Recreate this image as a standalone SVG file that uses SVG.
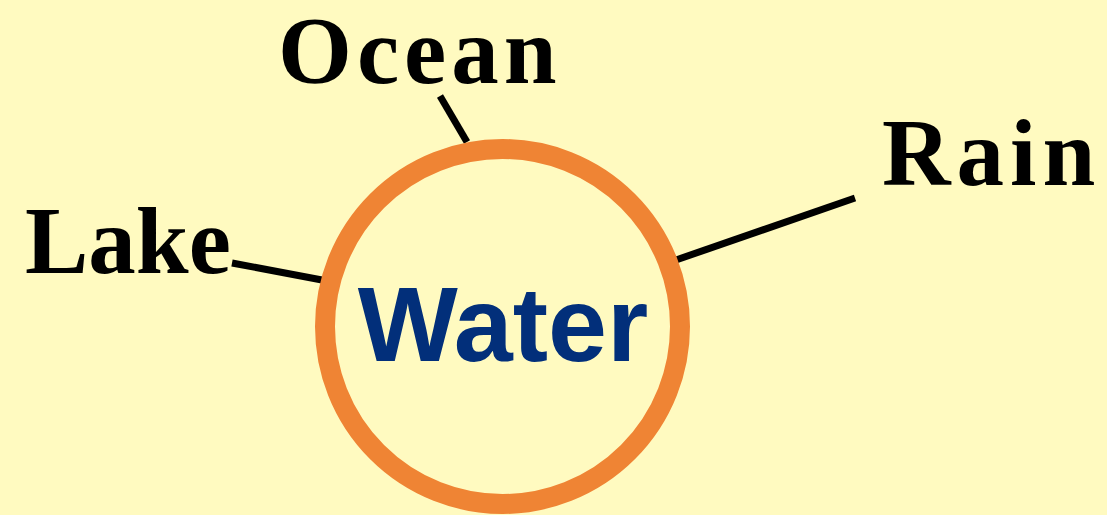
<svg xmlns="http://www.w3.org/2000/svg" width="1107" height="515" viewBox="0 0 1107 515">
<style>
.lbl{font-family:"Liberation Serif","Times New Roman",serif;font-weight:bold;font-size:95px;fill:#000}
.conn{stroke:#000;stroke-width:7;fill:none}
</style>
<rect x="0" y="0" width="1107" height="515" fill="#FFFAC0"/>
<g id="connectors">
<line class="conn" x1="440" y1="96" x2="467" y2="142"/>
<line class="conn" x1="232" y1="263" x2="322" y2="280"/>
<line class="conn" x1="855" y1="198" x2="676" y2="260"/>
</g>
<g id="water">
<circle cx="502.5" cy="326.5" r="177.5" fill="#FFFAC0" stroke="#EF8434" stroke-width="20"/>
<text x="503" y="361" text-anchor="middle" font-family="Liberation Sans, Arial, sans-serif" font-weight="bold" font-size="106" fill="#022F7A">Water</text>
</g>
<g id="ocean"><text class="lbl" x="278" y="83" font-size="93" letter-spacing="5">Ocean</text></g>
<g id="lake"><text class="lbl" x="25" y="273">Lake</text></g>
<g id="rain"><text class="lbl" x="882" y="185" letter-spacing="6">Rain</text></g>
</svg>
